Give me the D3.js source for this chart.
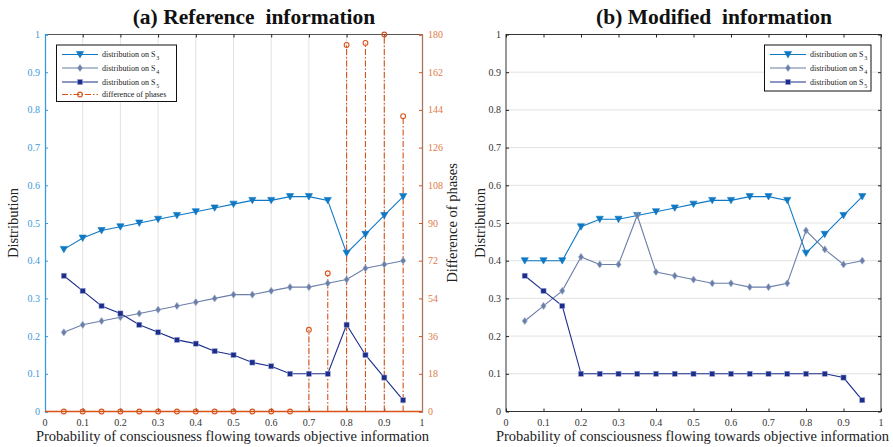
<!DOCTYPE html>
<html>
<head>
<meta charset="utf-8">
<script src="https://cdn.jsdelivr.net/npm/d3@7"></script>
<style>
  body { margin: 0; background: #fff; }
  svg text { font-family: "Liberation Serif", "Times New Roman", serif; }
</style>
</head>
<body>
<svg id="chart" width="893" height="447"></svg>
<script>
// x positions: probability of consciousness flowing towards objective information
const probs = [0.05,0.1,0.15,0.2,0.25,0.3,0.35,0.4,0.45,0.5,0.55,0.6,0.65,0.7,0.75,0.8,0.85,0.9,0.95];

// (a) reference information
const refS3 = [0.43,0.46,0.48,0.49,0.50,0.51,0.52,0.53,0.54,0.55,0.56,0.56,0.57,0.57,0.56,0.42,0.47,0.52,0.57];
const refS4 = [0.21,0.23,0.24,0.25,0.26,0.27,0.28,0.29,0.30,0.31,0.31,0.32,0.33,0.33,0.34,0.35,0.38,0.39,0.40];
const refS5 = [0.36,0.32,0.28,0.26,0.23,0.21,0.19,0.18,0.16,0.15,0.13,0.12,0.10,0.10,0.10,0.23,0.15,0.09,0.03];
const refPhase = [0,0,0,0,0,0,0,0,0,0,0,0,0,39,66,175,176,180,141];

// (b) modified information
const modS3 = [0.40,0.40,0.40,0.49,0.51,0.51,0.52,0.53,0.54,0.55,0.56,0.56,0.57,0.57,0.56,0.42,0.47,0.52,0.57];
const modS4 = [0.24,0.28,0.32,0.41,0.39,0.39,0.52,0.37,0.36,0.35,0.34,0.34,0.33,0.33,0.34,0.48,0.43,0.39,0.40];
const modS5 = [0.36,0.32,0.28,0.10,0.10,0.10,0.10,0.10,0.10,0.10,0.10,0.10,0.10,0.10,0.10,0.10,0.10,0.09,0.03];

// tick labels
const xTicks = [0,0.1,0.2,0.3,0.4,0.5,0.6,0.7,0.8,0.9,1];
const yTicks = [0,0.1,0.2,0.3,0.4,0.5,0.6,0.7,0.8,0.9,1];
const phaseTicks = [0,18,36,54,72,90,108,126,144,162,180];

const C3 = "#0f78c4", C4 = "#6a7ea8", C5 = "#1c2d8c", CP = "#d95319";
const svg = d3.select("#chart");

const seriesNames = [
  {key: "3", color: C3, marker: "tri"},
  {key: "4", color: C4, marker: "dia"},
  {key: "5", color: C5, marker: "sq"}
];

function drawMarker(g, type, x, y, color) {
  if (type === "tri") {
    g.append("path").attr("d", `M${x-3.6},${y-3} L${x+3.6},${y-3} L${x},${y+3.4} Z`)
      .attr("fill", color).attr("stroke", color).attr("stroke-width", 0.6);
  } else if (type === "dia") {
    g.append("path").attr("d", `M${x},${y-3.6} L${x+2.6},${y} L${x},${y+3.6} L${x-2.6},${y} Z`)
      .attr("fill", color).attr("stroke", "#9fb0cf").attr("stroke-width", 0.6);
  } else if (type === "sq") {
    g.append("rect").attr("x", x-2.6).attr("y", y-2.6).attr("width", 5.2).attr("height", 5.2)
      .attr("fill", color).attr("stroke", "#aab4dd").attr("stroke-width", 0.5);
  } else if (type === "circ") {
    g.append("circle").attr("cx", x).attr("cy", y).attr("r", 2.4)
      .attr("fill", "none").attr("stroke", color).attr("stroke-width", 1.1);
  }
}

function drawSeries(g, x, y, vals, s) {
  const line = d3.line().x((d, i) => x(probs[i])).y(d => y(d));
  g.append("path").datum(vals).attr("d", line).attr("fill", "none")
    .attr("stroke", s.color).attr("stroke-width", 1.1);
  vals.forEach((v, i) => drawMarker(g, s.marker, x(probs[i]), y(v), s.color));
}

function legendEntry(g, lx, ly, s, label, sub, dash) {
  g.append("line").attr("x1", lx).attr("x2", lx + 36).attr("y1", ly).attr("y2", ly)
    .attr("stroke", s.color).attr("stroke-width", 1.1)
    .attr("stroke-dasharray", dash || null);
  drawMarker(g, s.marker, lx + 18, ly, s.color);
  const t = g.append("text").attr("x", lx + 40).attr("y", ly + 2.5)
    .attr("font-size", 8).attr("fill", "#222").text(label);
  if (sub) t.append("tspan").attr("font-size", 6).attr("dx", 1).attr("dy", 3).text(sub);
}

// ---------- panel (a) ----------
{
  const L = 45, R = 422, T = 34.5, B = 411.5;
  const x = d3.scaleLinear().domain([0, 1]).range([L, R]);
  const y = d3.scaleLinear().domain([0, 1]).range([B, T]);
  const yp = d3.scaleLinear().domain([0, 180]).range([B, T]);
  const g = svg.append("g");

  // vertical grid
  g.append("g").selectAll("line").data(xTicks.slice(1, -1)).join("line")
    .attr("x1", d => x(d)).attr("x2", d => x(d)).attr("y1", T).attr("y2", B)
    .attr("stroke", "#e2e2e2").attr("stroke-width", 1);

  // top border with inward ticks
  g.append("line").attr("x1", L).attr("x2", R).attr("y1", T).attr("y2", T)
    .attr("stroke", "#555").attr("stroke-width", 1);
  const top = g.append("g").attr("transform", `translate(0,${T})`)
    .call(d3.axisBottom(x).tickValues(xTicks).tickSize(3).tickFormat(""));
  top.select(".domain").remove();
  top.selectAll("line").attr("stroke", "#222");

  // bottom axis
  const bot = g.append("g").attr("transform", `translate(0,${B})`)
    .call(d3.axisTop(x).tickValues(xTicks).tickSize(3).tickFormat(""));
  bot.select(".domain").remove();
  bot.selectAll("line").attr("stroke", "#222");
  g.append("g").selectAll("text").data(xTicks).join("text")
    .attr("x", d => x(d)).attr("y", B + 14).attr("text-anchor", "middle")
    .attr("font-size", 10).attr("fill", "#333").text(d => d3.format("~g")(d));

  // left axis (distribution)
  const ly = g.append("g").attr("transform", `translate(${L},0)`)
    .call(d3.axisRight(y).tickValues(yTicks).tickSize(3).tickFormat(""));
  ly.select(".domain").attr("stroke", "#3d9ad8").attr("stroke-width", 1.3);
  ly.selectAll("line").attr("stroke", "#3d9ad8");
  g.append("g").selectAll("text").data(yTicks).join("text")
    .attr("x", L - 5).attr("y", d => y(d) + 3.5).attr("text-anchor", "end")
    .attr("font-size", 10).attr("fill", "#3d9ad8").text(d => d3.format("~g")(d));

  // right axis (phases)
  const ry = g.append("g").attr("transform", `translate(${R},0)`)
    .call(d3.axisLeft(yp).tickValues(phaseTicks).tickSize(3).tickFormat(""));
  ry.select(".domain").attr("stroke", "#a87560").attr("stroke-width", 1.3);
  ry.selectAll("line").attr("stroke", CP);
  g.append("g").selectAll("text").data(phaseTicks).join("text")
    .attr("x", R + 6).attr("y", d => yp(d) + 3.5).attr("text-anchor", "start")
    .attr("font-size", 10).attr("fill", "#e07a48").text(d => d);

  // phase stems and baseline
  g.append("line").attr("x1", L).attr("x2", R).attr("y1", B).attr("y2", B)
    .attr("stroke", CP).attr("stroke-width", 1.3);
  g.append("g").selectAll("line").data(refPhase.map((v, i) => [probs[i], v]).filter(d => d[1] > 0))
    .join("line")
    .attr("x1", d => x(d[0])).attr("x2", d => x(d[0])).attr("y1", B).attr("y2", d => yp(d[1]))
    .attr("stroke", CP).attr("stroke-width", 1.1).attr("stroke-dasharray", "6,2,1.5,2");

  seriesNames.forEach((s, k) => drawSeries(g, x, y, [refS3, refS4, refS5][k], s));
  refPhase.forEach((v, i) => drawMarker(g, "circ", x(probs[i]), yp(v), CP));

  // axis titles
  g.append("text").attr("transform", `translate(18,${(T + B) / 2}) rotate(-90)`)
    .attr("text-anchor", "middle").attr("font-size", 14.5).attr("fill", "#222").text("Distribution");
  g.append("text").attr("transform", `translate(457,${(T + B) / 2}) rotate(-90)`)
    .attr("text-anchor", "middle").attr("font-size", 14.5).attr("fill", "#222").text("Difference of phases");
  g.append("text").attr("x", (L + R) / 2 - 1).attr("y", 441).attr("text-anchor", "middle")
    .attr("font-size", 14.5).attr("fill", "#222")
    .text("Probability of consciousness flowing towards objective information");

  // title
  g.append("text").attr("x", 254).attr("y", 24).attr("text-anchor", "middle")
    .attr("font-size", 21.5).attr("font-weight", "bold").attr("fill", "#111")
    .style("white-space", "pre").text("(a) Reference  information");

  // legend
  const lg = g.append("g");
  lg.append("rect").attr("x", 56.5).attr("y", 45).attr("width", 120).attr("height", 56.5)
    .attr("fill", "#fff").attr("stroke", "#111").attr("stroke-width", 1);
  legendEntry(lg, 62, 54.5, seriesNames[0], "distribution on S", "3");
  legendEntry(lg, 62, 68, seriesNames[1], "distribution on S", "4");
  legendEntry(lg, 62, 82, seriesNames[2], "distribution on S", "5");
  legendEntry(lg, 62, 94.5, {color: CP, marker: "circ"}, "difference of phases", null, "6,2,1.5,2");
}

// ---------- panel (b) ----------
{
  const L = 506, R = 881, T = 34.5, B = 411.5;
  const x = d3.scaleLinear().domain([0, 1]).range([L, R]);
  const y = d3.scaleLinear().domain([0, 1]).range([B, T]);
  const g = svg.append("g");

  // horizontal grid
  g.append("g").selectAll("line").data(yTicks.slice(1, -1)).join("line")
    .attr("x1", L).attr("x2", R).attr("y1", d => y(d)).attr("y2", d => y(d))
    .attr("stroke", "#e2e2e2").attr("stroke-width", 1);

  // frame
  g.append("rect").attr("x", L).attr("y", T).attr("width", R - L).attr("height", B - T)
    .attr("fill", "none").attr("stroke", "#333").attr("stroke-width", 1);

  const mk = (axis, tr) => {
    const a = g.append("g").attr("transform", tr).call(axis);
    a.select(".domain").remove();
    a.selectAll("line").attr("stroke", "#222");
  };
  mk(d3.axisTop(x).tickValues(xTicks).tickSize(3).tickFormat(""), `translate(0,${B})`);
  mk(d3.axisBottom(x).tickValues(xTicks).tickSize(3).tickFormat(""), `translate(0,${T})`);
  mk(d3.axisRight(y).tickValues(yTicks).tickSize(3).tickFormat(""), `translate(${L},0)`);
  mk(d3.axisLeft(y).tickValues(yTicks).tickSize(3).tickFormat(""), `translate(${R},0)`);

  g.append("g").selectAll("text").data(xTicks).join("text")
    .attr("x", d => x(d)).attr("y", B + 14).attr("text-anchor", "middle")
    .attr("font-size", 10).attr("fill", "#333").text(d => d3.format("~g")(d));
  g.append("g").selectAll("text").data(yTicks).join("text")
    .attr("x", L - 5).attr("y", d => y(d) + 3.5).attr("text-anchor", "end")
    .attr("font-size", 10).attr("fill", "#333").text(d => d3.format("~g")(d));

  seriesNames.forEach((s, k) => drawSeries(g, x, y, [modS3, modS4, modS5][k], s));

  g.append("text").attr("transform", `translate(485,${(T + B) / 2}) rotate(-90)`)
    .attr("text-anchor", "middle").attr("font-size", 14.5).attr("fill", "#222").text("Distribution");
  g.append("text").attr("x", (L + R) / 2 - 1).attr("y", 441).attr("text-anchor", "middle")
    .attr("font-size", 14.5).attr("fill", "#222")
    .text("Probability of consciousness flowing towards objective information");

  g.append("text").attr("x", 714).attr("y", 24).attr("text-anchor", "middle")
    .attr("font-size", 21.5).attr("font-weight", "bold").attr("fill", "#111")
    .style("white-space", "pre").text("(b) Modified  information");

  const lg = g.append("g");
  lg.append("rect").attr("x", 764.5).attr("y", 45).attr("width", 106.5).attr("height", 46)
    .attr("fill", "#fff").attr("stroke", "#111").attr("stroke-width", 1);
  legendEntry(lg, 770, 54.5, seriesNames[0], "distribution on S", "3");
  legendEntry(lg, 770, 68, seriesNames[1], "distribution on S", "4");
  legendEntry(lg, 770, 82, seriesNames[2], "distribution on S", "5");
}
</script>
</body>
</html>
